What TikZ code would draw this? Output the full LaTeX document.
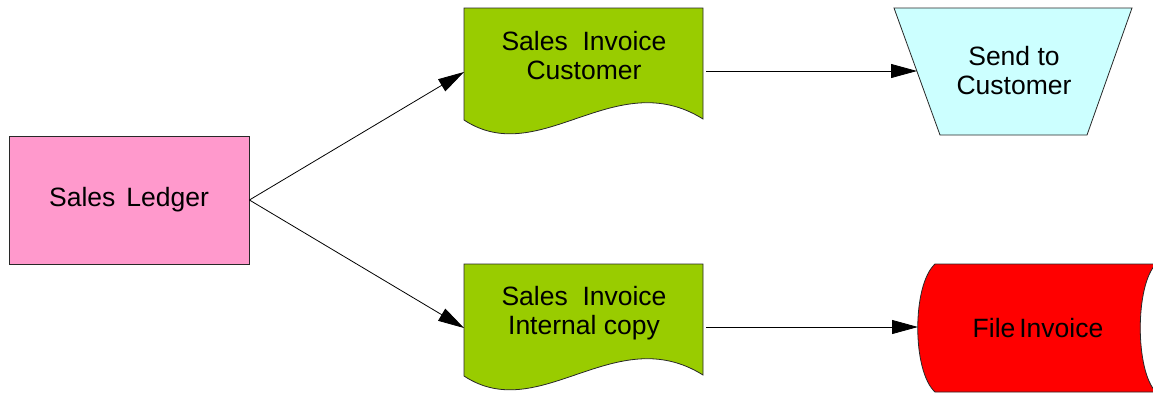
\documentclass[tikz,border=0pt]{standalone}
\usepackage{fontspec}
\setmainfont{Liberation Sans}
\usetikzlibrary{arrows.meta}
\definecolor{ledgerpink}{RGB}{255,153,204}
\definecolor{docgreen}{RGB}{153,204,0}
\definecolor{sendcyan}{RGB}{204,255,255}
\definecolor{filered}{RGB}{255,0,0}
\definecolor{edgegray}{RGB}{40,40,40}
\tikzset{
  shapeline/.style={draw=edgegray, line width=0.8pt},
  label/.style={align=center, font=\fontsize{26.5}{29}\selectfont, inner sep=0pt},
  flow/.style={draw=black, line width=0.8pt, -{Triangle[length=26pt, width=14pt]}}
}
\begin{document}
\begin{tikzpicture}[x=1pt, y=-1pt]
\useasboundingbox (0,0) rectangle (1153,394);
\clip (0,0) rectangle (1153,394);

% Sales ledger
\node[shapeline, fill=ledgerpink, minimum width=240pt, minimum height=128pt,
      inner sep=0pt, font=\fontsize{26.5}{29}\selectfont] (ledger) at (129,200) {Sales\hspace{11pt}Ledger};

% Invoice document (customer copy)
\path[shapeline, fill=docgreen] (464,8) -- (703,8) -- (703,119)
  .. controls (615,64) and (540,170) .. (464,120) -- cycle;
\node[label] (invcust) at (584,56) {Sales\ \ Invoice\\Customer};
\coordinate (invcust-in) at (464,72);
\coordinate (invcust-out) at (706,71);

% Invoice document (internal copy)
\path[shapeline, fill=docgreen] (464,264) -- (703,264) -- (703,375)
  .. controls (615,320) and (540,426) .. (464,376) -- cycle;
\node[label] (invint) at (584,313) {Sales\ \ Invoice\\Internal\ copy};
\coordinate (invint-in) at (464,328);
\coordinate (invint-out) at (706,327);

% Manual operation: send to customer
\path[shapeline, fill=sendcyan] (894,8) -- (1132,8) -- (1087,135) -- (940,135) -- cycle;
\node[label] (send) at (1014,71) {Send to\\Customer};
\coordinate (send-in) at (917,71);

% Stored data: file invoice
\path[shapeline, fill=filered] (935,264) -- (1156,264)
  .. controls (1135,285) and (1135,371) .. (1156,392) -- (935,392)
  .. controls (912,371) and (912,285) .. (935,264) -- cycle;
\node[label] (file) at (1038,328) {File\hspace{4pt}Invoice};
\coordinate (file-in) at (918,327);

% Connectors
\draw[flow] (ledger.east) -- (invcust-in);
\draw[flow] (ledger.east) -- (invint-in);
\draw[flow] (invcust-out) -- (send-in);
\draw[flow] (invint-out) -- (file-in);
\end{tikzpicture}
\end{document}
